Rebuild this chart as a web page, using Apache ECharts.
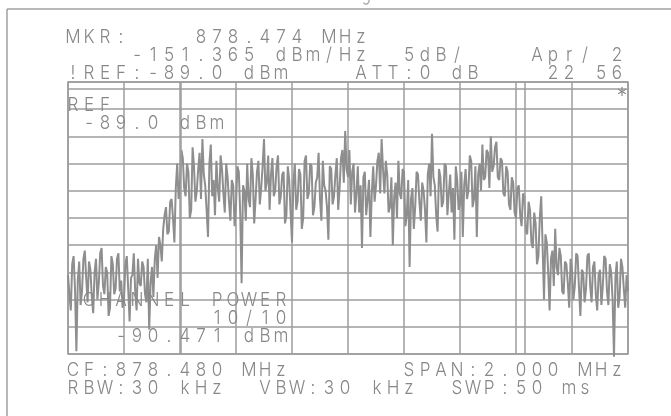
<!DOCTYPE html>
<html>
<head>
<meta charset="utf-8">
<script src="https://cdn.jsdelivr.net/npm/echarts@6/dist/echarts.min.js"></script>
<style>
  html, body { margin: 0; padding: 0; background: #ffffff; }
  #chart { width: 671px; height: 416px; }
</style>
</head>
<body>
<div id="chart"></div>
<script>
// Analyzer settings
const refLevelDbm = -89.0;
const dbPerDiv = 5;
const divisions = 10;
const spanKHz = 2000;

// Channel-power integration edges, kHz from centre frequency
const channelEdgesKHz = [-596, 632];
// Display line, dBm
const displayLineDbm = -90.3;

// Swept trace, 401 points across the span, dBm
const traceDbm = [
  -124.5, -128.0, -131.0, -122.5, -121.0, -127.0, -138.5, -125.5, -122.0, -130.0,
  -127.5, -121.5, -120.0, -125.0, -129.5, -122.0, -123.5, -128.5, -131.5, -124.0,
  -121.5, -129.0, -126.0, -120.5, -119.5, -126.5, -128.0, -123.0, -124.0, -132.0,
  -130.5, -121.0, -122.5, -128.0, -127.0, -121.5, -120.5, -127.5, -125.5, -130.5,
  -129.0, -122.5, -121.0, -127.0, -133.0, -125.0, -124.5, -120.5, -127.5, -131.0,
  -121.5, -126.0, -126.5, -122.0, -123.0, -128.0, -129.5, -121.5, -134.5, -126.0,
  -123.0, -128.5, -121.5, -119.0, -125.0, -117.5, -119.0, -122.0, -116.0, -113.5,
  -112.0, -117.0, -116.5, -111.0, -110.5, -114.0, -118.5, -108.5, -104.0, -110.5,
  -107.5, -101.5, -103.0, -108.5, -110.0, -104.0, -105.5, -114.0, -112.5, -101.0,
  -104.5, -111.0, -109.0, -105.0, -102.0, -110.5, -99.5, -106.0, -108.0, -112.5,
  -117.5, -104.0, -100.5, -110.0, -107.0, -113.5, -103.5, -108.5, -111.0, -102.5,
  -105.0, -109.5, -113.0, -104.0, -106.5, -111.0, -114.5, -107.0, -108.0, -115.5,
  -111.5, -104.5, -105.5, -113.0, -126.0, -108.0, -109.0, -114.5, -104.0, -110.5,
  -112.0, -103.0, -106.0, -115.0, -110.5, -105.5, -103.5, -111.5, -108.5, -104.5,
  -99.5, -109.0, -107.5, -102.5, -112.5, -106.0, -103.0, -110.0, -109.0, -104.5,
  -102.5, -111.5, -110.0, -106.0, -105.5, -115.0, -113.5, -104.5, -107.0, -113.0,
  -118.5, -107.5, -104.0, -112.5, -111.0, -105.0, -106.0, -116.0, -114.0, -103.5,
  -102.5, -110.5, -109.5, -104.0, -104.5, -113.5, -112.0, -107.5, -106.5, -102.0,
  -110.5, -114.5, -103.5, -108.0, -109.0, -112.0, -118.0, -104.5, -105.0, -111.5,
  -110.0, -106.0, -103.0, -112.5, -108.5, -103.0, -101.5, -107.5, -98.0, -105.0,
  -106.5, -101.5, -111.5, -105.5, -104.0, -113.0, -109.5, -104.5, -113.0, -108.0,
  -119.5, -106.5, -105.5, -113.5, -110.5, -107.0, -117.5, -109.5, -104.5, -111.0,
  -108.0, -103.5, -102.0, -109.5, -99.5, -105.0, -109.5, -103.5, -106.0, -113.0,
  -112.0, -106.5, -119.0, -110.0, -107.5, -114.0, -103.5, -109.5, -110.5, -105.0,
  -105.5, -115.5, -113.5, -107.0, -123.0, -110.5, -108.5, -116.0, -112.0, -105.5,
  -106.0, -111.0, -114.5, -107.5, -109.0, -112.5, -118.5, -106.0, -104.0, -110.0,
  -98.5, -106.5, -108.0, -113.5, -116.5, -105.0, -106.5, -112.0, -111.0, -104.0,
  -104.5, -113.5, -109.5, -106.0, -113.0, -108.5, -118.0, -104.5, -107.0, -112.5,
  -111.5, -105.5, -117.5, -108.0, -105.0, -110.5, -109.0, -102.5, -103.5, -112.0,
  -110.5, -104.5, -117.5, -106.0, -104.0, -109.0, -100.5, -107.0, -106.5, -101.5,
  -102.0, -108.5, -99.0, -105.5, -104.5, -101.0, -100.0, -106.5, -107.0, -103.0,
  -103.5, -109.5, -110.0, -104.5, -105.5, -111.5, -112.5, -106.5, -107.5, -113.0,
  -114.0, -108.5, -108.0, -113.5, -115.5, -109.5, -110.0, -116.5, -117.0, -111.0,
  -112.5, -118.5, -119.5, -113.0, -115.0, -122.5, -121.0, -114.0, -110.0, -119.0,
  -129.0, -117.0, -118.5, -124.0, -131.0, -121.5, -120.0, -126.5, -116.0, -123.0,
  -124.5, -119.5, -121.0, -127.5, -128.0, -122.0, -122.5, -126.0, -130.5, -121.5,
  -123.5, -129.0, -126.5, -120.5, -121.0, -127.0, -132.0, -123.5, -124.0, -129.5,
  -127.0, -121.0, -120.5, -126.5, -129.5, -123.0, -122.0, -128.0, -131.0, -124.5,
  -123.5, -130.0, -126.5, -121.0, -121.5, -127.5, -130.0, -122.5, -124.0, -129.0,
  -139.5, -125.0, -122.0, -130.5, -128.5, -121.5, -123.0, -127.0, -130.5, -124.5,
  -127.5
];

// Screen annotations: [text, column, row centre]
const headerLines = [
  ['MKR:', 0, 37], ['878.474 MHz', 8, 37],
  ['-151.365', 4, 55], ['dBm/Hz', 13, 55], ['5dB/', 21, 55], ['Apr/ 2', 29, 55],
  ['!REF:-89.0 dBm', 0, 73], ['ATT:0 dB', 18, 73], ['22 56', 30, 73]
];
const insideLines = [
  ['REF', 0, 105.5], ['-89.0', 1, 123.5], ['dBm', 7, 123.5],
  ['CHANNEL POWER', 1, 300], ['10/10', 9, 318], ['-90.471 dBm', 3, 336]
];
const footerLines = [
  ['CF:878.480 MHz', 0, 370.5], ['SPAN:2.000 MHz', 21, 370.5],
  ['RBW:30 kHz', 0, 388.5], ['VBW:30 kHz', 12, 388.5], ['SWP:50 ms', 24, 388.5]
];

const ink = '#888888';
const gridInk = '#9c9c9c';
const colLeft = 68, colStep = 16;
const cellFont = '300 19px Inter, "Liberation Sans", sans-serif';

// Fixed-pitch character cells, like the analyzer's stroke font
function cellText(lines) {
  const out = [];
  lines.forEach(([str, col, y]) => {
    for (let k = 0; k < str.length; k++) {
      const ch = str[k];
      if (ch === ' ') continue;
      out.push({
        type: 'text',
        x: colLeft + colStep * (col + k) + 5,
        y: y,
        scaleX: 0.9,
        silent: true,
        z: 10,
        style: {
          text: ch,
          fill: ink,
          font: cellFont,
          align: 'center', verticalAlign: 'middle',
          textAlign: 'center', textVerticalAlign: 'middle'
        }
      });
    }
  });
  return out;
}

const n = traceDbm.length;
const traceData = traceDbm.map((v, i) => [
  -spanKHz / 2 + i * spanKHz / (n - 1),
  v - refLevelDbm
]);

const chart = echarts.init(document.getElementById('chart'), null, { renderer: 'canvas' });
chart.setOption({
  animation: false,
  backgroundColor: '#ffffff',
  grid: {
    left: 68, right: 43, top: 82, bottom: 62,
    show: true, borderColor: gridInk, borderWidth: 1.5, backgroundColor: 'transparent'
  },
  xAxis: {
    type: 'value',
    min: -spanKHz / 2, max: spanKHz / 2, interval: spanKHz / divisions,
    axisLine: { show: false }, axisTick: { show: false }, axisLabel: { show: false },
    splitLine: { show: true, lineStyle: { color: gridInk, width: 1.5 } }
  },
  yAxis: {
    type: 'value',
    min: -dbPerDiv * divisions, max: 0, interval: dbPerDiv,
    axisLine: { show: false }, axisTick: { show: false }, axisLabel: { show: false },
    splitLine: { show: true, lineStyle: { color: gridInk, width: 1.5 } }
  },
  series: [{
    type: 'line',
    data: traceData,
    showSymbol: false,
    clip: false,
    lineStyle: { color: '#8e8e8e', width: 2 },
    markLine: {
      silent: true,
      symbol: 'none',
      label: { show: false },
      lineStyle: { color: gridInk, width: 1.5, type: 'solid' },
      data: channelEdgesKHz.map(k => ({ xAxis: k }))
        .concat([{ yAxis: displayLineDbm - refLevelDbm }])
    }
  }],
  graphic: [
    { type: 'line', silent: true, shape: { x1: 7, y1: 9, x2: 671, y2: 9 },
      style: { stroke: '#a0a0a0', lineWidth: 1.5 } },
    { type: 'line', silent: true, shape: { x1: 7, y1: 9, x2: 7, y2: 416 },
      style: { stroke: '#a0a0a0', lineWidth: 1.5 } },
    { type: 'arc', silent: true, shape: { cx: 366, cy: 1, r: 3, startAngle: -0.5, endAngle: 2.6 },
      style: { stroke: '#a0a0a0', lineWidth: 1.2, fill: 'none' } },
    { type: 'text', silent: true, z: 10, x: 622, y: 96,
      style: { text: '*', fill: ink, font: '300 22px Inter, sans-serif',
               align: 'center', verticalAlign: 'middle',
               textAlign: 'center', textVerticalAlign: 'middle' } }
  ].concat(cellText(headerLines), cellText(insideLines), cellText(footerLines))
});
</script>
</body>
</html>
